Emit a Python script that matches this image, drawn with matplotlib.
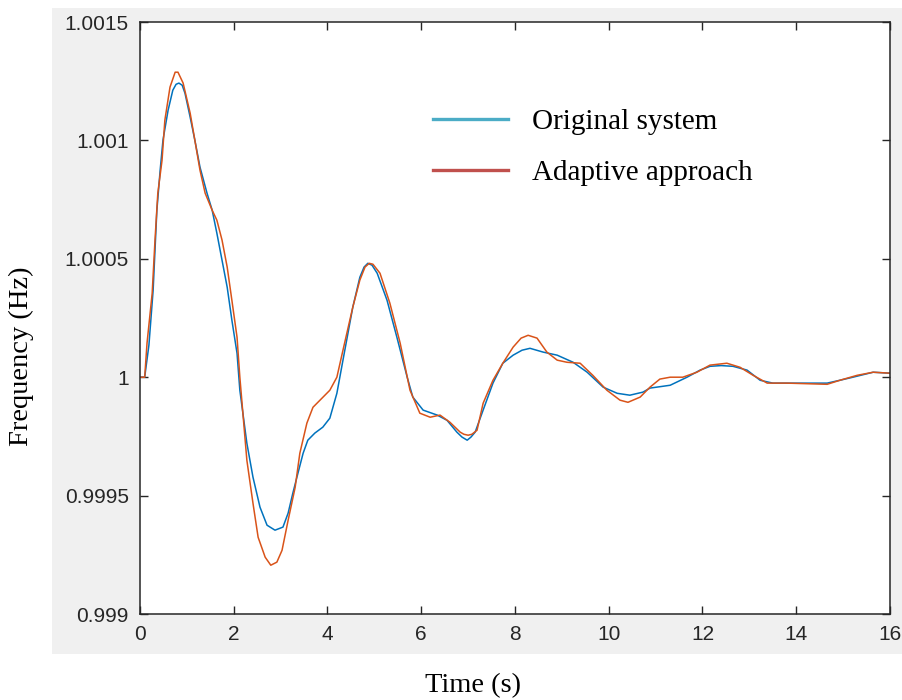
import numpy as np
import matplotlib
matplotlib.use("Agg")
import matplotlib.pyplot as plt
from matplotlib.lines import Line2D
from matplotlib.patches import Rectangle

# time (s) and frequency deviation from 1 Hz, in units of 1e-4 Hz
t_orig = [0.00, 0.10, 0.19, 0.28, 0.36, 0.43, 0.49, 0.60, 0.70, 0.77, 0.83, 0.90,
          0.96, 1.07, 1.17, 1.28, 1.43, 1.54, 1.64, 1.75, 1.86, 1.96, 2.07, 2.13,
          2.28, 2.41, 2.56, 2.71, 2.88, 3.05, 3.16, 3.26, 3.37, 3.48, 3.58, 3.73,
          3.90, 4.05, 4.20, 4.33, 4.54, 4.69, 4.78, 4.86, 4.95, 5.06, 5.27,
          5.48, 5.70, 5.82, 6.04, 6.34, 6.55, 6.76, 6.87, 6.98, 7.06, 7.15, 7.32,
          7.53, 7.74, 7.96, 8.15, 8.32, 8.60, 8.90, 9.24, 9.54, 9.88, 10.18, 10.45,
          10.73, 10.88, 11.31, 11.67, 11.95, 12.16, 12.40, 12.65, 12.95, 13.23, 13.50,
          14.23, 14.66, 14.93, 15.21, 15.64, 16.00]
d_orig = [0.00, 0.00, 1.35, 3.67, 7.05, 8.74, 10.01, 11.28, 12.12, 12.37, 12.42, 12.33,
          11.99, 10.98, 10.01, 8.87, 7.77, 7.05, 6.08, 4.94, 3.80, 2.41, 1.01, -0.55,
          -2.79, -4.22, -5.49, -6.25, -6.46, -6.33, -5.74, -4.90, -4.05, -3.21, -2.66, -2.36,
          -2.11, -1.73, -0.68, 0.72, 2.96, 4.22, 4.65, 4.81, 4.73, 4.39, 3.25,
          1.69, 0.00, -0.84, -1.39, -1.60, -1.82, -2.32, -2.53, -2.66, -2.53, -2.32, -1.39,
          -0.25, 0.59, 0.93, 1.14, 1.22, 1.06, 0.93, 0.63, 0.21, -0.42, -0.68, -0.76,
          -0.63, -0.46, -0.34, 0.00, 0.30, 0.46, 0.49, 0.46, 0.30, -0.13, -0.25,
          -0.25, -0.25, -0.13, 0.00, 0.21, 0.17]

t_adapt = [0.00, 0.10, 0.15, 0.26, 0.32, 0.38, 0.47, 0.53, 0.64, 0.75, 0.81, 0.92,
           1.07, 1.17, 1.28, 1.39, 1.54, 1.64, 1.75, 1.86, 1.96, 2.07, 2.13, 2.28,
           2.41, 2.52, 2.67, 2.79, 2.92, 3.03, 3.16, 3.31, 3.41, 3.56, 3.69, 3.88,
           4.05, 4.20, 4.33, 4.54, 4.69, 4.80, 4.89, 4.97, 5.12, 5.33, 5.55, 5.76,
           5.97, 6.19, 6.40, 6.61, 6.83, 6.91, 7.00, 7.08, 7.19, 7.32, 7.53, 7.74,
           7.96, 8.13, 8.28, 8.47, 8.68, 8.90, 9.11, 9.39, 9.66, 9.96, 10.24, 10.41,
           10.67, 10.88, 11.09, 11.31, 11.58, 11.88, 12.16, 12.52, 12.80, 13.08, 13.38,
           13.80, 14.66, 14.93, 15.30, 15.64, 16.00]
d_adapt = [0.00, 0.00, 1.44, 3.55, 5.79, 7.77, 9.16, 10.85, 12.25, 12.88, 12.88, 12.42,
           11.15, 10.01, 8.74, 7.77, 7.05, 6.63, 5.79, 4.65, 3.25, 1.69, 0.00, -3.51,
           -5.32, -6.76, -7.60, -7.94, -7.81, -7.31, -6.04, -4.65, -3.21, -1.94, -1.27, -0.89,
           -0.55, 0.00, 1.14, 2.96, 4.10, 4.65, 4.81, 4.77, 4.39, 3.13, 1.44, -0.55,
           -1.52, -1.69, -1.60, -1.90, -2.32, -2.41, -2.45, -2.41, -2.24, -1.10, -0.13, 0.59,
           1.27, 1.65, 1.77, 1.65, 1.06, 0.72, 0.63, 0.59, 0.08, -0.55, -0.97, -1.06,
           -0.84, -0.42, -0.08, 0.00, 0.00, 0.21, 0.51, 0.59, 0.42, 0.08, -0.25,
           -0.25, -0.30, -0.13, 0.08, 0.21, 0.17]

labels = ["Original system", "Adaptive approach"]
x_ticks = [0, 2, 4, 6, 8, 10, 12, 14, 16]
y_ticks = [0.999, 0.9995, 1.0, 1.0005, 1.001, 1.0015]
y_tick_labels = ["0.999", "0.9995", "1", "1.0005", "1.001", "1.0015"]

f_orig = 1 + np.array(d_orig) * 1e-4
f_adapt = 1 + np.array(d_adapt) * 1e-4

fig = plt.figure(figsize=(9.03, 7), dpi=100, facecolor="white")
# grey MATLAB-style figure panel, kept behind the axes
fig.patches.append(Rectangle((52 / 903, 46 / 700), 851 / 903, 646 / 700,
                             transform=fig.transFigure, facecolor="#f0f0f0",
                             edgecolor="none", zorder=-10))

ax = fig.add_axes([140 / 903, 86 / 700, 750 / 903, 592 / 700])
ax.set_zorder(1)
ax.plot(t_orig, f_orig, color="#0072BD", lw=1.1, solid_joinstyle="round")
ax.plot(t_adapt, f_adapt, color="#D95319", lw=1.1, solid_joinstyle="round")

ax.set_xlim(0, 16)
ax.set_ylim(0.999, 1.0015)
ax.set_xticks(x_ticks)
ax.set_yticks(y_ticks)
ax.set_yticklabels(y_tick_labels)
ax.tick_params(direction="in", length=6, width=1.0, colors="#262626",
               top=True, right=True, labelsize=15)
ax.tick_params(axis="x", pad=8)
ax.tick_params(axis="y", pad=8)
for lab in ax.get_xticklabels() + ax.get_yticklabels():
    lab.set_fontfamily("Liberation Sans")
for sp in ax.spines.values():
    sp.set_color("#262626")
    sp.set_linewidth(1.1)

handles = [Line2D([], [], color="#4BACC6", lw=2.4),
           Line2D([], [], color="#C0504D", lw=2.4)]
ax.legend(handles, labels, loc="upper left", bbox_to_anchor=(0.391, 0.853),
          frameon=False, prop={"family": "Liberation Serif", "size": 21},
          handlelength=2.55, handletextpad=0.85, labelspacing=0.83,
          borderpad=0, borderaxespad=0)

fig.text(0.524, 0.021, "Time (s)", family="Liberation Serif", fontsize=20.5,
         ha="center", va="center")
fig.text(0.024, 0.491, "Frequency (Hz)", family="Liberation Serif", fontsize=20.5,
         ha="center", va="center", rotation=90)

fig.savefig("out.png", dpi=100, facecolor="white")
